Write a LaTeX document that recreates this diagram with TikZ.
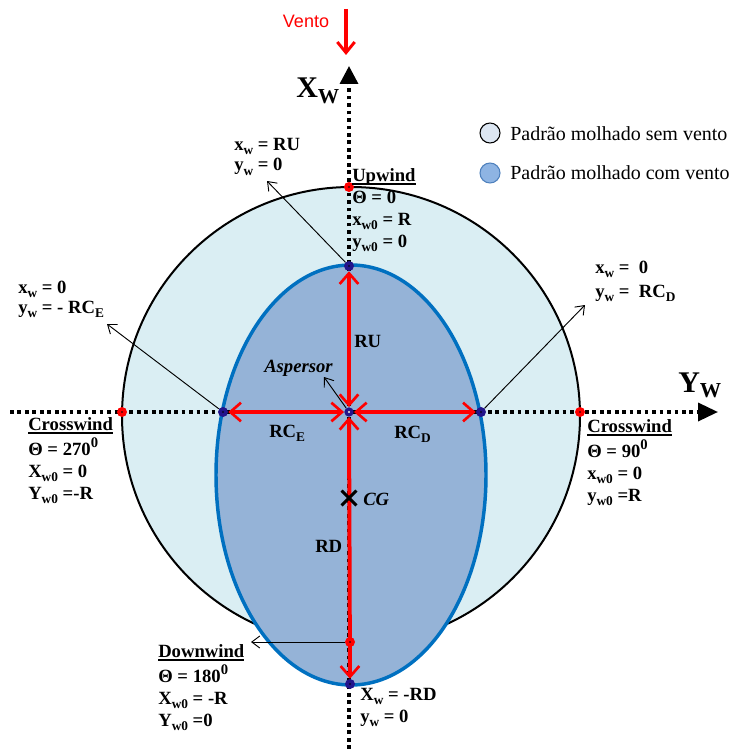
\documentclass[tikz,border=0pt]{standalone}
\usepackage{fontspec}
\setmainfont{Liberation Serif}
\newfontfamily\arialf{Liberation Sans}
\usetikzlibrary{arrows.meta,shapes.misc}
\definecolor{outerfill}{RGB}{218,238,243}
\definecolor{ellfill}{RGB}{149,179,215}
\definecolor{ellline}{RGB}{0,112,192}
\definecolor{navy}{RGB}{35,20,140}
\definecolor{legone}{RGB}{220,230,242}
\definecolor{legtwo}{RGB}{142,180,227}
\definecolor{legtwoline}{RGB}{79,129,189}
\newcommand{\mysub}[1]{\raisebox{-0.22em}{\fontsize{10}{10}\selectfont #1}}
\newcommand{\mysup}{\raisebox{0.42em}{\fontsize{11}{11}\selectfont 0}}
\newcommand{\myul}[1]{\setbox0\hbox{#1}\rlap{\rule[-2.6pt]{\wd0}{1.1pt}}\box0}
\begin{document}
\begin{tikzpicture}[x=0.75pt,y=-0.75pt,
  lab/.style={font=\bfseries\fontsize{14}{16.5}\selectfont, inner sep=0pt, align=left, anchor=north west},
  single/.style={font=\bfseries\fontsize{14}{16.5}\selectfont, inner sep=0pt, anchor=base west},
  bdot/.style={circle, fill=navy, minimum size=7.5pt, inner sep=0pt,
    path picture={\fill[black] (path picture bounding box.center) circle[radius=0.7pt];}},
  rdot/.style={circle, fill=red, minimum size=7.5pt, inner sep=0pt,
    path picture={\fill[black] (path picture bounding box.center) circle[radius=0.7pt];}},
  axisline/.style={line width=2.6pt, dash pattern=on 2.8pt off 2.8pt},
  redtip/.tip={Straight Barb[length=8pt,width=14pt,line width=2pt]},
  redarr/.style={red, line width=3pt, redtip-redtip},
  lead/.style={line width=0.7pt, -{Straight Barb[length=6pt,width=9pt,line width=0.7pt]}}
]
\useasboundingbox (0,0) rectangle (730,749);

% wetted patterns
\draw[fill=outerfill, line width=1.5pt] (351,416) circle[radius=229];
\draw[fill=ellfill, draw=ellline, line width=2.6pt] (351,475) ellipse[x radius=135, y radius=210];

% axes
\coordinate (vbot) at (349,749);
\coordinate (vtop) at (349,66);
\coordinate (hleft) at (10,412);
\coordinate (hright) at (718,412);
\draw[axisline, -{Triangle[length=13.5pt,width=13.5pt]}] (vbot) -- (vtop);
\draw[axisline, -{Triangle[length=15pt,width=13.5pt]}] (hleft) -- (hright);

% wind arrow
\coordinate (wa) at (346,9);
\coordinate (wb) at (346,55);
\draw[red, line width=2.6pt, -{Straight Barb[length=8pt,width=13pt,line width=2.2pt]}] (wa) -- (wb);
\node[font=\arialf\fontsize{13.5}{13.5}\selectfont, text=red, anchor=base, inner sep=0pt] (vento) at (306,28) {Vento};

% axis labels
\node[font=\bfseries\fontsize{22.5}{22.5}\selectfont, anchor=base west, inner sep=0pt] (xw) at (296,98)
  {X\raisebox{-4pt}{\fontsize{16}{16}\selectfont W}};
\node[font=\bfseries\fontsize{22.5}{22.5}\selectfont, anchor=base west, inner sep=0pt] (yw) at (678,392)
  {Y\raisebox{-4pt}{\fontsize{16}{16}\selectfont W}};

% points
\node[rdot] (rt) at (349,187) {};
\node[rdot] (rl) at (122,412) {};
\node[rdot] (rr) at (580,412) {};
\node[bdot] (bt) at (349,266) {};
\node[bdot] (bl) at (223,412) {};
\node[bdot] (br) at (481,412) {};
\node[bdot] (bb) at (350,684) {};
\node[bdot, minimum size=7pt] (sp) at (349,412) {};
\fill[white] (sp.center) circle[radius=1.2];

% red radii
\draw[redarr] (bt) -- (sp);
\draw[redarr] (bl) -- (sp);
\draw[redarr] (sp) -- (br);
\draw[redarr] (sp) -- (bb);
\node[rdot] (rd) at (350,642) {};

% CG
\node[cross out, draw, line width=2.2pt, minimum size=9pt, inner sep=0pt] (cg) at (349,498) {};
\node[font=\bfseries\itshape\fontsize{14}{16.5}\selectfont, anchor=base west, inner sep=0pt] (cgl) at (363,505) {CG};

% leader arrows
\coordinate (tipa) at (267,181);
\coordinate (tipb) at (107,324);
\coordinate (tipc) at (585,305);
\coordinate (tipd) at (251,642);
\coordinate (tipe) at (324,377);
\draw[lead] (bt) -- (tipa);
\draw[lead] (bl) -- (tipb);
\draw[lead] (br) -- (tipc);
\draw[lead] (rd) -- (tipd);
\draw[lead] (sp) -- (tipe);

% inner labels
\node[single] (ru) at (354,347) {RU};
\node[single, font=\bfseries\itshape\fontsize{14}{16.5}\selectfont] (asp) at (264,372) {Aspersor};
\node[single] (rce) at (269,437) {RC\mysub{E}};
\node[single] (rcd) at (394,438) {RC\mysub{D}};
\node[single] (rdl) at (315,552) {RD};

% outer labels
\node[lab] (ta) at (234,134.6) {\strut x\mysub{w} = RU\\[-1pt] y\mysub{w} = 0};
\node[lab] (up) at (352,165.6) {\strut\myul{Upwind}\\ Θ = 0\\ x\mysub{w0} = R\\ y\mysub{w0} = 0};
\node[lab] (la) at (18,277.6) {\strut x\mysub{w} = 0\\[-1.5pt] y\mysub{w} = - RC\mysub{E}};
\node[lab] (lc) at (28,414.6) {\strut\myul{Crosswind}\\ Θ = 270\mysup\\ X\mysub{w0} = 0\\ Y\mysub{w0} =-R};
\node[lab] (ra) at (595,257.6) {\strut x\mysub{w} =\ \ 0\\[1.5pt] y\mysub{w} =\ \ RC\mysub{D}};
\node[lab] (rc) at (587,416.6) {\strut\myul{Crosswind}\\ Θ = 90\mysup\\ x\mysub{w0} = 0\\ y\mysub{w0} =R};
\node[lab] (dw) at (158,641.6) {\strut\myul{Downwind}\\ Θ = 180\mysup\\ X\mysub{w0} = -R\\ Y\mysub{w0} =0};
\node[lab] (bra) at (360,684.6) {\strut X\mysub{w} = -RD\\ y\mysub{w} = 0};

% legend
\node[circle, draw, fill=legone, line width=0.8pt, minimum size=15pt, inner sep=0pt] (lgo) at (490,133) {};
\node[circle, draw=legtwoline, fill=legtwo, line width=0.8pt, minimum size=15pt, inner sep=0pt] (lgt) at (490,173) {};
\node[font=\fontsize{15}{18}\selectfont, anchor=base west, inner sep=0pt] (lgotxt) at (510,140) {Padrão molhado sem vento};
\node[font=\fontsize{15}{18}\selectfont, anchor=base west, inner sep=0pt] (lgttxt) at (510,179) {Padrão molhado com vento};
\end{tikzpicture}
\end{document}
